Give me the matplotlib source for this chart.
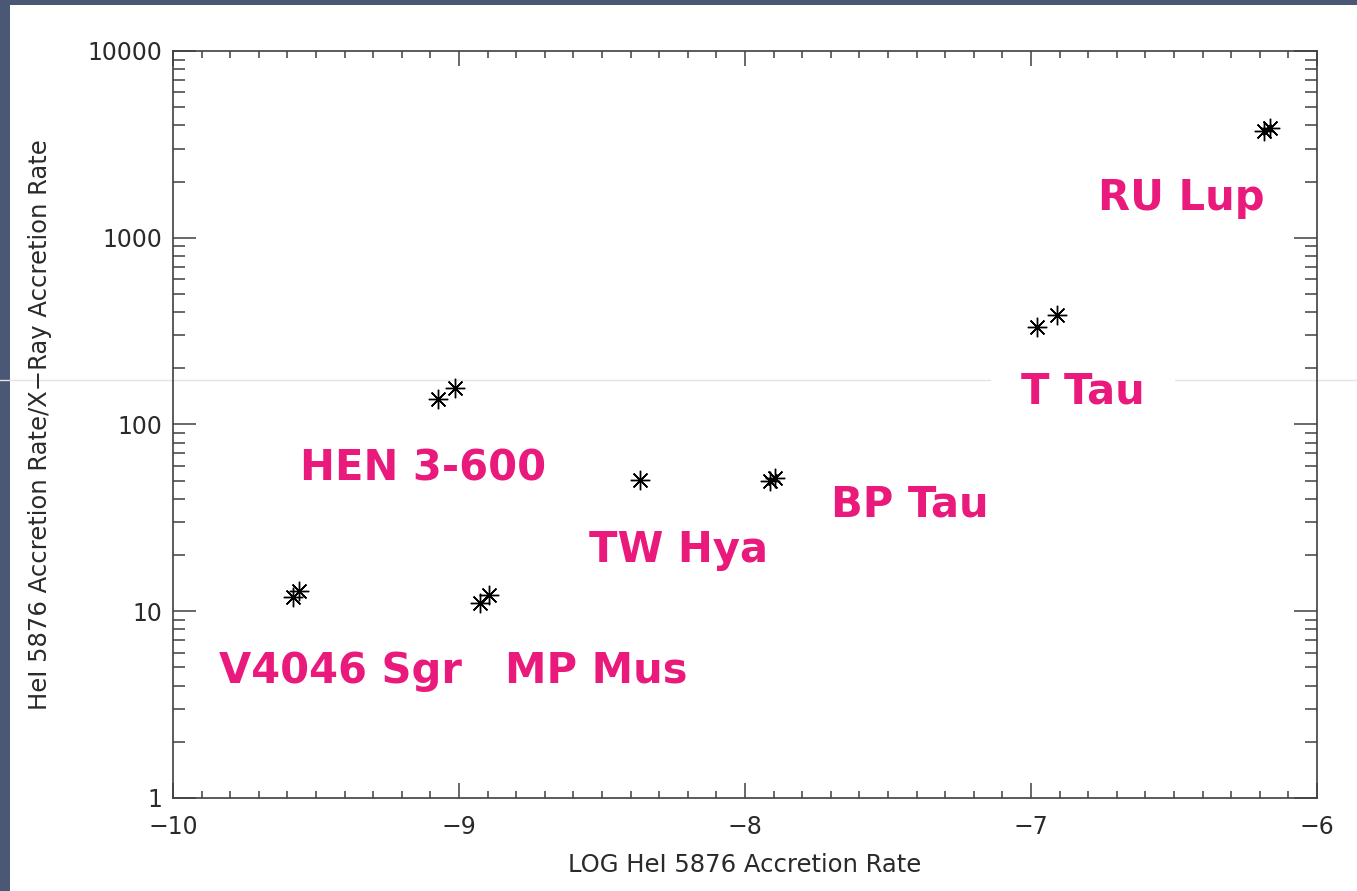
import matplotlib.pyplot as plt
from matplotlib.ticker import FixedLocator, MultipleLocator, LogLocator, NullFormatter, FixedFormatter

# log HeI 5876 accretion rate and HeI / X-ray accretion rate ratio, two measures per star
log_hei = [-9.580, -9.559, -8.927, -8.895, -9.073, -9.014, -8.367,
           -7.913, -7.895, -6.979, -6.909, -6.185, -6.164]
ratio = [11.9, 12.8, 11.1, 12.2, 137, 157, 50.4,
         49.8, 51.7, 333, 386, 3730, 3870]

# star names and where each name is written (centre x, baseline y)
star_names = ["V4046 Sgr", "MP Mus", "HEN 3-600", "TW Hya", "BP Tau", "T Tau", "RU Lup"]
name_x = [-9.413, -8.521, -9.126, -8.234, -7.423, -6.818, -6.476]
name_y = [4.13, 4.13, 50.4, 18.4, 32.0, 130, 1409]

y_ticks = [1, 10, 100, 1000, 10000]
y_tick_labels = ["1", "10", "100", "1000", "10000"]
x_ticks = [-10, -9, -8, -7, -6]

pink = "#E91A7B"
axis_color = "#404040"
text_color = "#2a2a2a"

fig = plt.figure(figsize=(13.57, 8.91), dpi=100, facecolor="#4a5876")
# white slide area
fig.add_artist(plt.Rectangle((10 / 1357, 0), 1, 1 - 5 / 891, transform=fig.transFigure,
                             facecolor="white", edgecolor="none", zorder=-1))

ax = fig.add_axes([0.1275, 0.1044, 0.843, 0.8384])
ax.set_xlim(-10, -6)
ax.set_yscale("log")
ax.set_ylim(1, 10000)

ax.plot(log_hei, ratio, linestyle="none", marker=(8, 2, 0), markersize=14,
        markeredgewidth=1.0, color="black", zorder=4)
ax.plot(log_hei, ratio, linestyle="none", marker="o", markersize=2, color="black", zorder=4)

# faint guide line running across the slide
ax.plot([0, 1], [1 - 380 / 891, 1 - 380 / 891], transform=fig.transFigure, clip_on=False,
        color="#e4e4e4", linewidth=1.0, zorder=1)

for name, x, y in zip(star_names, name_x, name_y):
    box = None
    if name == "T Tau":
        box = dict(facecolor="white", edgecolor="none", pad=22)
    ax.text(x, y, name, color=pink, fontsize=30, fontweight="bold", ha="center",
            va="baseline", zorder=3, bbox=box)

ax.xaxis.set_major_locator(FixedLocator(x_ticks))
ax.xaxis.set_minor_locator(MultipleLocator(0.1))
ax.yaxis.set_major_locator(FixedLocator(y_ticks))
ax.yaxis.set_major_formatter(FixedFormatter(y_tick_labels))
ax.yaxis.set_minor_locator(LogLocator(base=10, subs=range(2, 10)))
ax.yaxis.set_minor_formatter(NullFormatter())

ax.tick_params(axis="both", which="both", direction="in", top=True, right=True,
               color=axis_color, width=1.1, labelcolor=text_color, labelsize=17)
ax.tick_params(axis="x", which="major", length=11, pad=12)
ax.tick_params(axis="x", which="minor", length=5)
ax.tick_params(axis="y", which="major", length=16.5, pad=8)
ax.tick_params(axis="y", which="minor", length=8.5)
for side in ax.spines.values():
    side.set_color(axis_color)
    side.set_linewidth(1.2)

ax.set_xlabel("LOG HeI 5876 Accretion Rate", fontsize=17.5, color=text_color)
ax.set_ylabel("HeI 5876 Accretion Rate/X\u2212Ray Accretion Rate", fontsize=17.5, color=text_color)
ax.xaxis.set_label_coords(0.5, -0.074)
ax.yaxis.set_label_coords(-0.106, 0.5)

fig.savefig("out.png", dpi=100, facecolor=fig.get_facecolor())
